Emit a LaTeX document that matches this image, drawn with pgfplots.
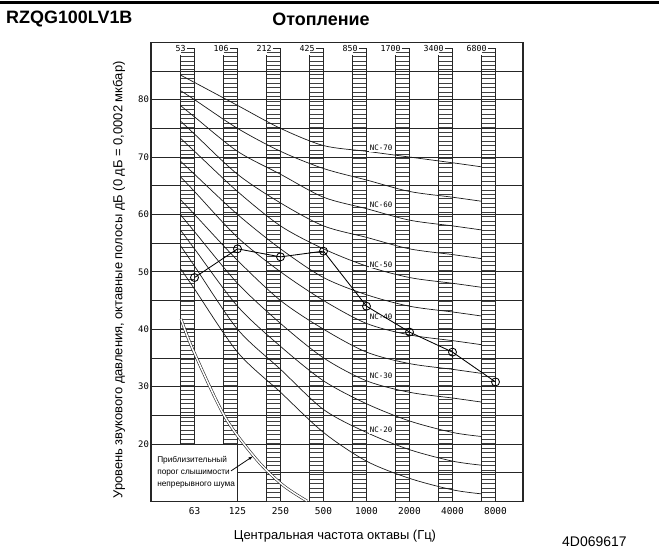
\documentclass[border=0pt]{standalone}
\usepackage{fontspec}
\setmainfont{Liberation Sans}
\newfontfamily\cadfont{DejaVu Sans Mono}
\usepackage{pgfplots}
\usepackage{pgfplotstable}
\pgfplotsset{compat=1.18}
\usetikzlibrary{arrows.meta}

% NC curves: octave position k (0 = 63 Hz ... 7 = 8000 Hz), levels in dB
\pgfplotstableread{
k     nc15 nc20 nc25 nc30 nc35 nc40 nc45 nc50 nc55 nc60 nc65 nc70
-0.33 50.6 54.6 57.3 60.0 62.6 66.6 69.3 73.3 76.3 79.0 81.6 84.3
0     47   51   54   57   60   64   67   71   74   77   80   83
1     36   40   44   48   52   56   60   64   67   71   75   79
2     29   33   37   41   45   50   54   58   62   67   71   75
3     22   26   31   35   40   45   49   54   58   63   68   72
4     17   22   27   31   36   41   46   51   56   61   66   71
5     14   19   24   29   34   39   44   49   54   59   64   70
6     12   17   22   28   33   38   43   48   53   58   63   69
6.67  11.3 16.3 21.3 27.3 32.3 37.3 42.3 47.3 52.3 57.3 62.3 68.3
}\nctable

% measured octave band levels of the unit (heating)
\pgfplotstableread{
k dB
0 49
1 54
2 52.6
3 53.6
4 44
5 39.5
6 36
7 30.8
}\unitdata

% approximate threshold of hearing for continuous noise
\pgfplotstableread{
k dB
-0.314 41.8
-0.035 36.4
0.709 24.7
1.453 17.2
2.058 12.8
2.616 10.05
}\threshold

% ladder column drawn just left of an octave position
\newcommand{\ladder}[2]{%
  \draw[line width=0.45bp, black!75, xstep=5000bp, ystep=4.45bp]
    (axis cs:#1-0.32,#2) grid (axis cs:#1,88.6);
  \draw[line width=0.75bp, black!85] (axis cs:#1-0.32,#2) -- (axis cs:#1-0.32,87.8);
  \draw[line width=0.75bp, black!85] (axis cs:#1,#2) -- (axis cs:#1,89.0);
}
% band edge label at the top of a column
\newcommand{\bandlabel}[2]{%
  \node[anchor=east, inner sep=0.5bp, font=\cadfont\fontsize{8.3}{8}\selectfont]
    at (axis cs:#1-0.19,89.0) {#2};
  \draw[line width=0.75bp, black!85] (axis cs:#1-0.18,89.0) -- (axis cs:#1,89.0);
}
\newcommand{\nclabel}[2]{%
  \node[fill=white, inner sep=1bp, font=\cadfont\fontsize{7.5}{8}\selectfont]
    at (axis cs:4.34,#1) {#2};
}

\begin{document}
\begin{tikzpicture}[x=1bp,y=1bp]
\useasboundingbox (0,0) rectangle (659,549);
\draw[line width=3bp] (0,546.5) -- (659,546.5);
\node[anchor=west, inner sep=0, font=\bfseries\fontsize{18}{18}\selectfont] at (6,529.5) {RZQG100LV1B};
\node[inner sep=0, font=\bfseries\fontsize{18}{18}\selectfont] at (321,529.5) {Отопление};

\begin{axis}[
  at={(151bp,47.7bp)}, anchor=south west,
  scale only axis, width=372bp, height=459bp,
  xmin=-1.0116, xmax=7.64, ymin=10, ymax=90,
  axis line style={line width=1.2bp, black!85},
  xtick={0,...,7},
  xticklabels={63,125,250,500,1000,2000,4000,8000},
  ytick={20,30,...,80},
  major tick length=0pt,
  /pgf/number format/assume math mode=true,
  xticklabel style={font=\cadfont\fontsize{9.5}{10}\selectfont, yshift=-3bp},
  yticklabel style={font=\cadfont\fontsize{9}{10}\selectfont, xshift=1.5bp},
  clip=false,
]
% horizontal grid every 5 dB
\pgfplotsinvokeforeach{20,25,...,85}{
  \draw[line width=0.65bp, black!85] (axis cs:-1.0116,#1) -- (axis cs:7.64,#1);
}
\draw[line width=0.65bp, black!85] (axis cs:1,15) -- (axis cs:7.64,15);
\draw[line width=0.75bp, black!85] (axis cs:1,10) -- (axis cs:1,20);

% octave band columns
\ladder{0}{20}
\ladder{1}{20}
\ladder{2}{10}
\ladder{3}{10}
\ladder{4}{10}
\ladder{5}{10}
\ladder{6}{10}
\ladder{7}{10}
\bandlabel{0}{53}
\bandlabel{1}{106}
\bandlabel{2}{212}
\bandlabel{3}{425}
\bandlabel{4}{850}
\bandlabel{5}{1700}
\bandlabel{6}{3400}
\bandlabel{7}{6800}

% NC curves
\pgfplotsinvokeforeach{nc15,nc20,nc25,nc30,nc35,nc40,nc45,nc50,nc55,nc60,nc65,nc70}{
  \addplot[smooth, line width=0.7bp, black!90] table[x=k, y=#1] {\nctable};
}
\nclabel{71.6}{NC-70}
\nclabel{61.6}{NC-60}
\nclabel{51.3}{NC-50}
\nclabel{42.1}{NC-40}
\nclabel{31.8}{NC-30}
\nclabel{22.4}{NC-20}

% threshold of hearing
\addplot[smooth, double, double distance=1.5bp, line width=0.6bp, black!85] table {\threshold};
\node[anchor=north west, align=left, inner sep=0, font=\fontsize{8.3}{12}\selectfont]
  at (axis cs:-0.87,17.9) {Приблизительный\\порог слышимости\\непрерывного шума};
\draw[-{Latex[length=5bp,width=3bp]}, line width=0.8bp] (axis cs:0.85,15.3) -- (axis cs:1.37,17.9);

% unit level
\addplot[line width=0.85bp, black, mark=o, mark size=4bp,
  mark options={line width=0.85bp, solid}] table {\unitdata};
\end{axis}

\node[rotate=90, inner sep=0, font=\fontsize{13}{13}\selectfont] at (119,269)
  {Уровень звукового давления, октавные полосы дБ (0 дБ = 0,0002 мкбар)};
\node[inner sep=0, font=\fontsize{13}{13}\selectfont] at (335,13)
  {Центральная частота октавы (Гц)};
\node[anchor=north west, inner sep=0, font=\fontsize{14}{14}\selectfont] at (562,12.5) {4D069617};
\end{tikzpicture}
\end{document}
